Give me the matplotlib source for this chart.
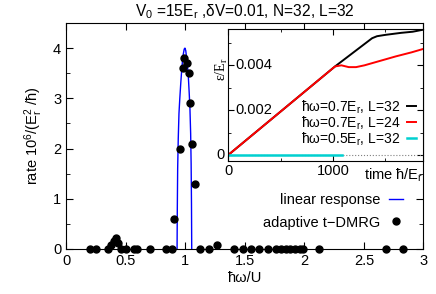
import numpy as np
import matplotlib
matplotlib.use("Agg")
import matplotlib.pyplot as plt
from matplotlib.ticker import MultipleLocator, FixedLocator

plt.rcParams['font.family'] = ['Liberation Sans', 'DejaVu Sans']
plt.rcParams['mathtext.fontset'] = 'custom'
plt.rcParams['mathtext.rm'] = 'Liberation Sans'
plt.rcParams['mathtext.it'] = 'Liberation Sans:italic'
plt.rcParams['mathtext.default'] = 'regular'

# main panel: absorption rate vs frequency
lr_omega = [0.932, 0.934, 0.937, 0.942, 0.948, 0.955, 0.963, 0.972, 0.982, 0.992,
            0.998, 1.005, 1.015, 1.025, 1.034, 1.040, 1.046, 1.050, 1.053, 1.055]
lr_rate = [0.0, 0.8, 1.6, 2.2, 2.7, 3.0, 3.3, 3.6, 3.85, 3.98,
           4.0, 3.95, 3.75, 3.5, 3.1, 2.8, 2.3, 1.7, 0.9, 0.0]

dmrg_omega = [0.204, 0.254, 0.349, 0.38, 0.40, 0.42, 0.44, 0.461, 0.506, 0.567,
              0.595, 0.707, 0.841, 0.892, 0.909, 0.956, 0.984, 0.993, 1.018, 1.029,
              1.040, 1.057, 1.085, 1.127, 1.199, 1.266, 1.412, 1.482, 1.552, 1.621,
              1.691, 1.764, 1.806, 1.848, 1.881, 1.923, 1.96, 1.993, 2.119, 2.684, 2.826]
dmrg_rate = [0, 0, 0, 0.08, 0.15, 0.21, 0.11, 0, 0, 0,
             0, 0, 0, 0, 0.6, 2.0, 3.6, 3.8, 3.7, 3.5,
             2.9, 2.1, 1.3, 0, 0, 0.08, 0, 0, 0, 0,
             0, 0, 0, 0, 0, 0, 0, 0, 0, 0, 0]

x_ticks = [0, 0.5, 1, 1.5, 2, 2.5, 3]
x_labels = ['0', '0.5', '1', '1.5', '2', '2.5', '3']
y_ticks = [0, 1, 2, 3, 4]

# inset: energy vs time
t_a = [0, 1019, 1373, 1420, 1500, 1650, 1760, 1860]
e_a = [0, 0.00395, 0.00521, 0.00530, 0.00536, 0.00545, 0.00550, 0.00559]
t_b = [0, 1019, 1080, 1150, 1220, 1300, 1450, 1600, 1750, 1860]
e_b = [0, 0.00395, 0.00400, 0.00392, 0.00392, 0.00400, 0.00420, 0.00440, 0.00458, 0.00473]
t_c = [0, 1083]
e_c = [0, 0]

fig = plt.figure(figsize=(4.36, 2.94), dpi=100)
ax = fig.add_axes([0.1514, 0.1531, 0.8199, 0.7687])

ax.plot(lr_omega, lr_rate, color='#0000ff', lw=1.0, label='linear response')
ax.plot(dmrg_omega, dmrg_rate, 'o', color='k', ms=5, clip_on=False, zorder=5,
        label='adaptive t\u2212DMRG')
ax.set_xlim(0, 3)
ax.set_ylim(0, 4.5)
ax.set_xticks(x_ticks, x_labels)
ax.set_yticks(y_ticks)
ax.yaxis.set_minor_locator(MultipleLocator(0.5))
ax.tick_params(which='both', direction='in', top=True, right=True, labelsize=10.5)
ax.tick_params(which='major', length=5)
ax.tick_params(which='minor', length=3)
ax.set_xlabel('\u0127\u03c9/U', fontsize=10.5, labelpad=2)
ax.set_ylabel('rate 10$^6$/(E$_r^2$ /\u0127)', fontsize=10.5, labelpad=6)
ax.set_title('V$_0$ =15E$_r$ ,\u03b4V=0.01, N=32, L=32', fontsize=11.2, pad=5)
ax.legend(loc='lower right', bbox_to_anchor=(0.96, 0.06), frameon=False,
          markerfirst=False, fontsize=10.5, handlelength=1.0, labelspacing=0.6,
          handletextpad=0.6, borderaxespad=0)

ins = fig.add_axes([0.5236, 0.4524, 0.4468, 0.4473])
ins.axhline(0, color='grey', ls=':', lw=0.8)
ins.plot(t_a, e_a, color='k', lw=1.4, label='\u0127\u03c9=0.7E$_r$, L=32')
ins.plot(t_b, e_b, color='#ff0000', lw=1.4, label='\u0127\u03c9=0.7E$_r$, L=24')
ins.plot(t_c, e_c, color='#00d0d0', lw=1.8, label='\u0127\u03c9=0.5E$_r$, L=32')
ins.set_xlim(0, 1860)
ins.set_ylim(-0.00027, 0.0056)
ins.xaxis.set_major_locator(FixedLocator([0, 1000]))
ins.xaxis.set_minor_locator(FixedLocator([500, 1500]))
ins.yaxis.set_major_locator(FixedLocator([0, 0.002, 0.004]))
ins.yaxis.set_minor_locator(MultipleLocator(0.001))
ins.tick_params(which='both', direction='in', top=True, right=True, labelsize=10.5)
ins.tick_params(which='major', length=4, pad=2)
ins.tick_params(which='minor', length=2)
ins.set_yticklabels([])
ins.set_xticklabels(['0', '1000'])
for v, s in zip([0.002, 0.004], ['0.002', '0.004']):
    ins.text(0.035, v, s, transform=ins.get_yaxis_transform(), ha='left', va='center', fontsize=10.5)
ins.text(-0.02, 0, '0', transform=ins.get_yaxis_transform(), ha='right', va='center', fontsize=10.5)
ins.text(1.0, -0.045, 'time \u0127/E$_r$', transform=ins.transAxes, ha='right', va='top', fontsize=10.5)
ins.text(-0.035, 0.7, '\u03b5/E$_r$', transform=ins.transAxes, rotation=90, ha='center', va='center',
         fontsize=10, family='Liberation Serif')
ins.legend(loc='lower right', bbox_to_anchor=(0.99, 0.06), frameon=False, markerfirst=False,
           fontsize=10, handlelength=0.6, labelspacing=-0.1, handletextpad=0.5, borderaxespad=0)

fig.savefig('out.png', dpi=100)
